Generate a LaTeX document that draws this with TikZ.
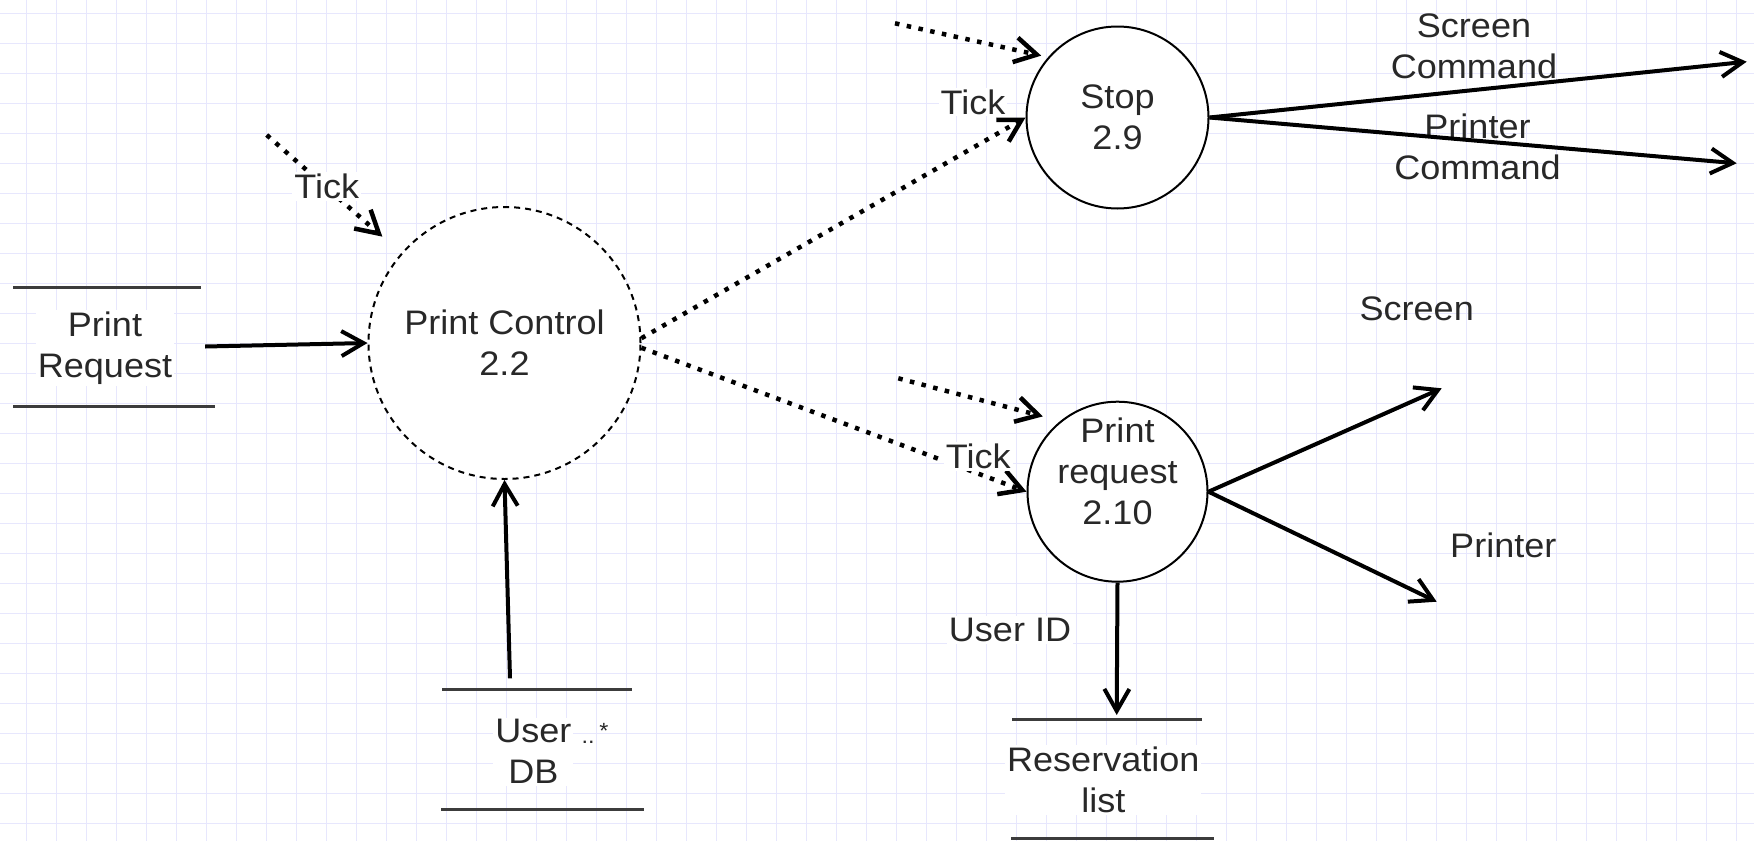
\documentclass[tikz,border=0pt]{standalone}
\usepackage{fontspec}
\setmainfont{Liberation Sans}[FakeStretch=1.06]
\usetikzlibrary{arrows.meta}
\definecolor{gridc}{RGB}{231,231,253}
\definecolor{txt}{RGB}{40,40,40}
\definecolor{storec}{RGB}{60,60,60}
\begin{document}
\begin{tikzpicture}[x=1pt,y=-1pt,
  every node/.style={font=\fontsize{34}{41}\selectfont, text=txt, inner sep=2pt, align=center},
  lbl/.style={fill=white},
  tinytxt/.style={font=\fontsize{22}{24}\selectfont, inner sep=0pt},
  flow/.style={line width=4pt, draw=black, -{Straight Barb[length=22pt,width=25pt]}},
  ctrl/.style={line width=4.5pt, draw=black, dash pattern=on 4.5pt off 7.5pt, -{Straight Barb[length=22pt,width=25pt,line width=4.5pt]}},
  proc/.style={circle, draw=black, line width=2pt, inner sep=0pt, fill=white},
  storebox/.style={inner sep=0pt},
  storeline/.style={draw=storec, line width=3pt},
  gridline/.style={draw=gridc, line width=1.5pt}]
\useasboundingbox (0,0) rectangle (1754,841);
\fill[white] (0,0) rectangle (1754,841);
% grid
\foreach \i in {0,...,57} \draw[gridline] ({26.7+30*\i},0) -- ({26.7+30*\i},841);
\foreach \j in {0,...,27} \draw[gridline] (0,{13.3+30*\j}) -- (1754,{13.3+30*\j});

% processes
\node[proc, dash pattern=on 6pt off 5pt, minimum size=272pt] (pc) at (504.5,343) {Print Control\\2.2};
\node[proc, minimum size=182pt] (stop) at (1117.5,117.5) {Stop\\2.9};
\node[proc, minimum size=180pt] (prt) at (1117.5,491.7) {};
\node (prtt) at (1117.5,471.7) {Print\\request\\2.10};

% stores
\node[storebox, minimum width=192pt, minimum height=119pt] (preq) at (109,346.5) {};
\draw[storeline] (13,287) -- (201,287);
\draw[storeline] (13,406) -- (215,406);
\node[lbl] (preqt) at (105,348) {Print\\Request};

\node[storebox, minimum width=192pt, minimum height=120pt] (udb) at (537,749) {};
\draw[storeline] (442,689.3) -- (632,689.3);
\draw[storeline] (441,809.3) -- (644,809.3);
\node[lbl] (udbt) at (533.3,751.7) {User\\DB};
\node[tinytxt, fill=white] (udbdots) at (588,742) {..};
\node[tinytxt] (udbstar) at (604,731) {*};

\node[storebox, minimum width=192pt, minimum height=119pt] (res) at (1107,779) {};
\draw[storeline] (1012,719.3) -- (1202,719.3);
\draw[storeline] (1011,838.3) -- (1214,838.3);
\node[lbl] (rest) at (1103.3,780) {Reservation\\list};

% free ends
\coordinate (t1) at (266.7,135);
\coordinate (t2) at (895,23.3);
\coordinate (t3) at (898.3,378.3);
\coordinate (udbs) at (510,678.3);
\coordinate (resin) at (1116.7,715);
\coordinate (scmd) at (1746.7,61.7);
\coordinate (pcmd) at (1736.7,163.3);
\coordinate (scr) at (1441.7,388.3);
\coordinate (ptr) at (1436.7,601.7);

% output labels (under lines)
\node (lsc) at (1474,46) {Screen\\Command};
\node (lpc) at (1477.5,146.7) {Printer\\Command};
\node (lscr) at (1416.7,308.3) {Screen};
\node (lptr) at (1503.3,545) {Printer};

% flows
\draw[flow] (preq.east) -- (pc.west);
\draw[flow] (udbs) -- (pc.south);
\draw[flow] (stop.east) -- (scmd);
\draw[flow] (stop.east) -- (pcmd);
\draw[flow] (prt.east) -- (scr);
\draw[flow] (prt.east) -- (ptr);
\draw[flow] (prt.south) -- (resin);

% control flows
\draw[ctrl, shorten >=25pt] (t1) -- (pc.139.5);
\draw[ctrl] (pc.2) -- (stop.west);
\draw[ctrl] (pc.-2) -- (prt.west);
\draw[ctrl, shorten >=7pt] (t2) -- (stop.139);
\draw[ctrl, shorten >=18pt] (t3) -- (prt.129.7);

% labels with white background
\node[lbl] (tk1) at (326.7,186.7) {Tick};
\node[lbl] (tk2) at (973,102) {Tick};
\node[lbl] (tk3) at (978.3,456.7) {Tick};
\node[lbl] (uid) at (1010,630) {User ID};
\end{tikzpicture}
\end{document}
